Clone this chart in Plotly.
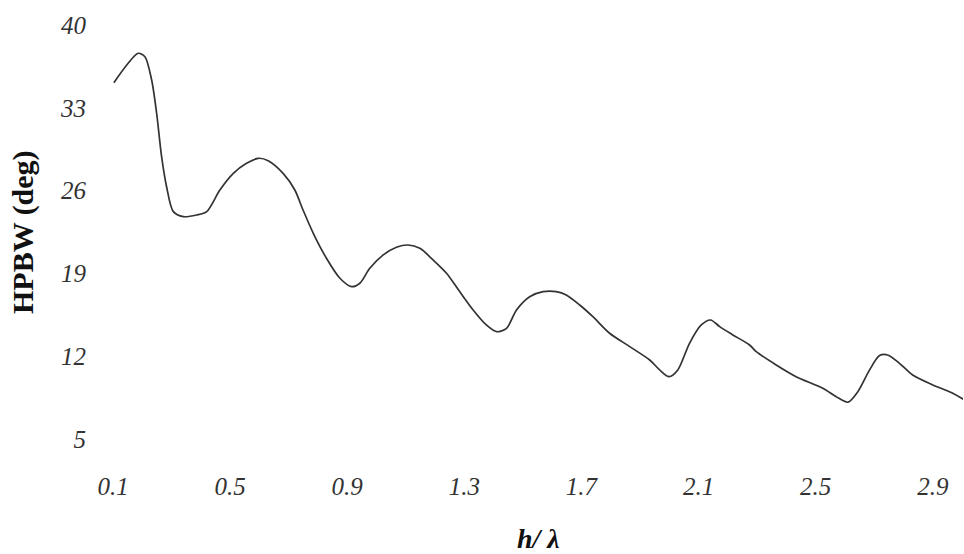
import plotly.graph_objects as go

# Traced curve: h/lambda vs HPBW (deg)
h_lambda = [0.103, 0.147, 0.186, 0.209, 0.232, 0.249, 0.266, 0.283, 0.306, 0.340,
            0.386, 0.420, 0.465, 0.511, 0.556, 0.596, 0.630, 0.681, 0.721, 0.749,
            0.784, 0.829, 0.875, 0.915, 0.943, 0.977, 1.023, 1.068, 1.108, 1.148,
            1.193, 1.239, 1.284, 1.330, 1.375, 1.410, 1.444, 1.478, 1.523, 1.569,
            1.614, 1.648, 1.694, 1.739, 1.796, 1.865, 1.933, 1.967, 1.999, 2.029,
            2.069, 2.109, 2.141, 2.172, 2.217, 2.274, 2.297, 2.365, 2.433, 2.524,
            2.570, 2.610, 2.644, 2.684, 2.718, 2.746, 2.786, 2.831, 2.900, 2.968,
            3.004]
hpbw = [35.12, 36.62, 37.61, 37.32, 35.35, 32.54, 28.87, 26.33, 24.22, 23.80,
        23.94, 24.22, 26.05, 27.46, 28.31, 28.73, 28.53, 27.46, 26.05, 24.36,
        22.39, 20.28, 18.59, 17.88, 18.17, 19.43, 20.56, 21.21, 21.40, 21.12,
        20.14, 19.01, 17.46, 15.91, 14.64, 14.07, 14.36, 15.91, 17.03, 17.46,
        17.46, 17.18, 16.33, 15.34, 13.94, 12.81, 11.68, 10.84, 10.27, 10.84,
        13.09, 14.64, 15.06, 14.50, 13.80, 12.95, 12.38, 11.26, 10.27, 9.29,
        8.58, 8.11, 9.00, 10.84, 12.05, 12.10, 11.40, 10.41, 9.57, 8.87,
        8.36]

x_ticks = [0.1, 0.5, 0.9, 1.3, 1.7, 2.1, 2.5, 2.9]
x_tick_labels = ["0.1", "0.5", "0.9", "1.3", "1.7", "2.1", "2.5", "2.9"]
y_ticks = [5, 12, 19, 26, 33, 40]
y_tick_labels = ["5", "12", "19", "26", "33", "40"]

FONT = "Liberation Serif"

fig = go.Figure()
fig.add_trace(go.Scatter(
    x=h_lambda, y=hpbw, mode="lines",
    line=dict(color="#333333", width=1.7, shape="spline", smoothing=0.8),
    showlegend=False, hoverinfo="skip",
))

fig.update_layout(
    width=964, height=554,
    margin=dict(l=113, r=1, t=25, b=115, autoexpand=False),
    paper_bgcolor="white", plot_bgcolor="white",
    font=dict(family=FONT, color="#333"),
    xaxis=dict(
        range=[0.1, 3.003], tickmode="array", tickvals=x_ticks,
        ticktext=["<i>%s</i>" % t for t in x_tick_labels],
        showgrid=False, zeroline=False, showline=False, ticks="",
        tickfont=dict(family=FONT, size=25, color="#333"),
        ticklabelstandoff=30, automargin=False,
    ),
    yaxis=dict(
        range=[5, 40], tickmode="array", tickvals=y_ticks,
        ticktext=["<i>%s</i>" % t for t in y_tick_labels],
        showgrid=False, zeroline=False, showline=False, ticks="",
        tickfont=dict(family=FONT, size=25, color="#333"),
        ticklabelstandoff=26, automargin=False,
    ),
    annotations=[
        dict(text="<b><i>h/ λ</i></b>", xref="paper", yref="paper", x=0.5, y=0,
             xanchor="center", yanchor="middle", yshift=-99, showarrow=False,
             font=dict(family=FONT, size=28, color="#111")),
        dict(text="<b>HPBW (deg)</b>", xref="paper", yref="paper", x=0, y=0.5,
             xanchor="center", yanchor="middle", xshift=-90, textangle=-90,
             showarrow=False, font=dict(family=FONT, size=30, color="#111")),
    ],
)

fig.write_html(
    "out.html",
    config={"displayModeBar": False, "staticPlot": True},
    post_script="document.body.style.margin='0';document.body.style.overflow='hidden';",
)
